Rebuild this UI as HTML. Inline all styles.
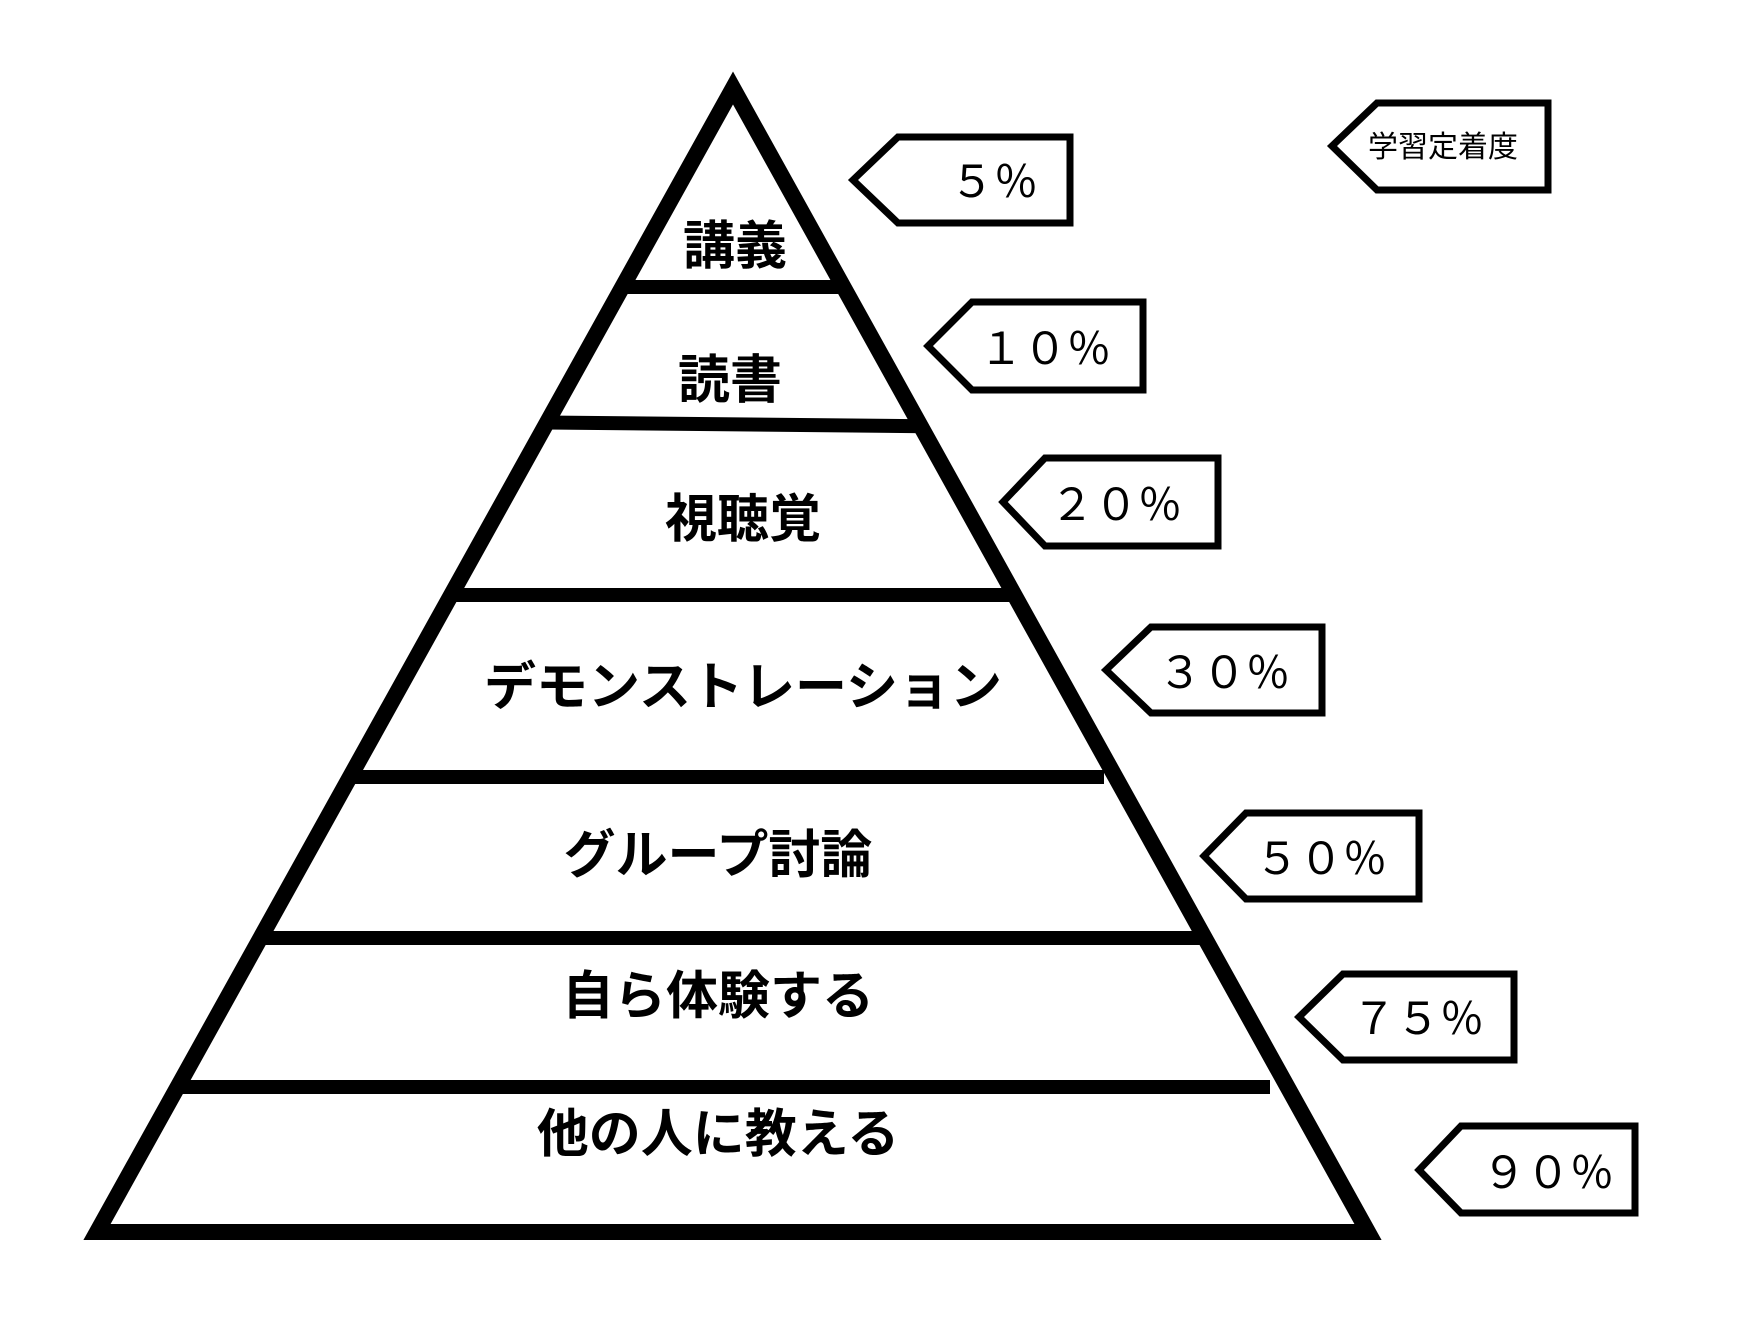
<!DOCTYPE html>
<html><head><meta charset="utf-8"><style>
html,body{margin:0;padding:0;background:#fff;}
svg{display:block;}
.lb{font-family:"Liberation Sans","Noto Sans CJK JP",sans-serif;font-weight:bold;font-size:52px;fill:#000;text-anchor:middle;}
.pc{font-family:"Liberation Sans","Noto Sans CJK JP",sans-serif;font-size:44px;fill:#000;text-anchor:end;}
</style></head><body>
<svg width="1743" height="1323" viewBox="0 0 1743 1323" xmlns="http://www.w3.org/2000/svg">
<defs><clipPath id="c"><polygon points="733,80 87,1240 1377,1240"/></clipPath></defs>
<g clip-path="url(#c)" stroke="#000" stroke-width="14">
<line x1="500" y1="287" x2="1000" y2="287"/>
<line x1="400" y1="421" x2="1100" y2="428"/>
<line x1="300" y1="595" x2="1200" y2="595"/>
<line x1="200" y1="777" x2="1104" y2="777"/>
<line x1="100" y1="938" x2="1300" y2="938"/>
<line x1="100" y1="1087" x2="1270" y2="1087"/>
</g>
<polygon points="733,88 97,1232 1368,1232" fill="none" stroke="#000" stroke-width="16" stroke-linejoin="miter"/>
<text class="lb" x="735" y="264">講義</text>
<text class="lb" x="730" y="398">読書</text>
<text class="lb" x="743" y="537">視聴覚</text>
<text class="lb" x="743" y="705">デモンストレーション</text>
<text class="lb" x="718" y="873">グループ討論</text>
<text class="lb" x="718" y="1014">自ら体験する</text>
<text class="lb" x="718" y="1152">他の人に教える</text>
<g fill="#fff" stroke="#000" stroke-width="7" transform="translate(-5,0)">
<polygon points="858,180 903,137 1075,137 1075,223 903,223"/>
<polygon points="933,346 977,302 1148,302 1148,390 977,390"/>
<polygon points="1008,502 1050,458 1223,458 1223,546 1050,546"/>
<polygon points="1111,670 1156,627 1327,627 1327,713 1156,713"/>
<polygon points="1209,856 1251,813 1424,813 1424,899 1251,899"/>
<polygon points="1304,1017 1348,974 1519,974 1519,1060 1348,1060"/>
<polygon points="1424,1170 1466,1126 1640,1126 1640,1213 1466,1213"/>
<polygon points="1337,146 1382,103 1553,103 1553,190 1382,190"/>
</g>
<text class="pc" x="1038" y="197">５％</text>
<text class="pc" x="1111" y="364">１０％</text>
<text class="pc" x="1182" y="520">２０％</text>
<text class="pc" x="1290" y="688">３０％</text>
<text class="pc" x="1387" y="874">５０％</text>
<text class="pc" x="1484" y="1034">７５％</text>
<text class="pc" x="1614" y="1188">９０％</text>
<text x="1443" y="157" font-family="Liberation Sans,Noto Sans CJK JP,sans-serif" font-size="30" text-anchor="middle">学習定着度</text>
</svg>
</body></html>
